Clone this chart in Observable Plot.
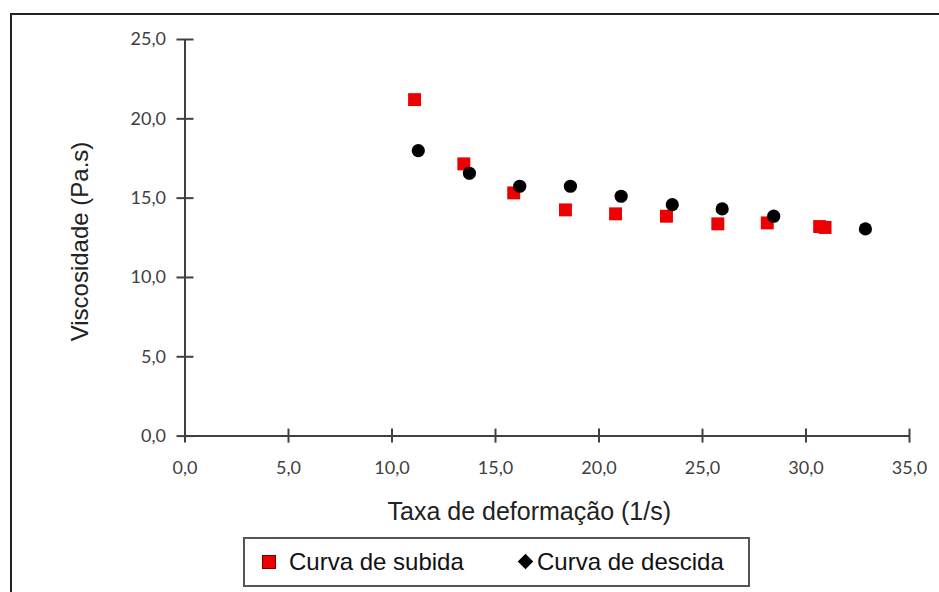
<!DOCTYPE html>
<html>
<head>
<meta charset="utf-8">
<script src="https://cdn.jsdelivr.net/npm/d3@7"></script>
<script src="https://cdn.jsdelivr.net/npm/@observablehq/plot@0.6"></script>
<style>
  html, body { margin: 0; padding: 0; background: #fff; }
  #wrap { position: relative; width: 939px; height: 592px; overflow: hidden; background: #fff; }
  #frame { position: absolute; left: 10px; top: 13px; width: 960px; height: 620px; border: 2px solid #222; box-sizing: border-box; }
  #chart { position: absolute; left: 0; top: 0; }
  #legend { position: absolute; left: 243px; top: 537px; width: 507px; height: 50px; border: 2px solid #555; box-sizing: border-box; background: #fff;
            font-family: "Liberation Sans", Arial, sans-serif; font-size: 24px; color: #111; }
  .item { position: absolute; top: 0; height: 46px; line-height: 46px; white-space: nowrap; }
  .sq { position: absolute; width: 12px; height: 12px; background: #ee0000; border: 1px solid #7a0000; }
  .dm { position: absolute; width: 11px; height: 11px; background: #000; transform: rotate(45deg); }
</style>
</head>
<body>
<div id="wrap">
  <div id="frame"></div>
  <div id="chart"></div>
  <div id="legend"></div>
</div>
<script>
// ---- data ----
const xTicks = [0, 5, 10, 15, 20, 25, 30, 35];
const yTicks = [0, 5, 10, 15, 20, 25];
const seriesNames = ["Curva de subida", "Curva de descida"];
const subidaX = [11.09, 13.47, 15.88, 18.38, 20.80, 23.26, 25.74, 28.13, 30.66, 30.92];
const subidaY = [21.21, 17.16, 15.33, 14.26, 14.01, 13.86, 13.38, 13.44, 13.21, 13.15];
const descidaX = [11.27, 13.74, 16.17, 18.62, 21.07, 23.54, 25.95, 28.44, 32.87];
const descidaY = [18.00, 16.57, 15.75, 15.75, 15.12, 14.59, 14.32, 13.86, 13.06];
const xTitle = "Taxa de deformação (1/s)";
const yTitle = "Viscosidade (Pa.s)";

const subida = subidaX.map((x, i) => ({x, y: subidaY[i]}));
const descida = descidaX.map((x, i) => ({x, y: descidaY[i]}));
const fmt = d => d.toFixed(1).replace(".", ",");
const axisColor = "#404040";
const tickFont = "Lato, 'Open Sans', sans-serif";
const titleFont = "'Liberation Sans', Arial, sans-serif";

const chart = Plot.plot({
  width: 939,
  height: 592,
  marginLeft: 184.5,
  marginRight: 30,
  marginTop: 39,
  marginBottom: 156.4,
  style: {background: "transparent", overflow: "visible"},
  x: {domain: [0, 35]},
  y: {domain: [0, 25]},
  marks: [
    // tick marks crossing the axes
    Plot.axisX(xTicks, {tickSize: 14, dy: -7, tickFormat: () => "", stroke: axisColor, strokeWidth: 2, label: null}),
    Plot.axisY(yTicks, {tickSize: 17, dx: 9, tickFormat: () => "", stroke: axisColor, strokeWidth: 2, label: null}),
    // tick labels
    Plot.axisX(xTicks, {tickSize: 0, tickPadding: 25, tickFormat: fmt, fontSize: 18, fontFamily: tickFont, fill: axisColor, label: null}),
    Plot.axisY(yTicks, {tickSize: 0, tickPadding: 19, tickFormat: fmt, fontSize: 18, fontFamily: tickFont, fill: axisColor, label: null}),
    // axis lines
    Plot.ruleY([0], {stroke: axisColor, strokeWidth: 2}),
    Plot.ruleX([0], {stroke: axisColor, strokeWidth: 2}),
    // axis titles
    Plot.text([xTitle], {frameAnchor: "bottom", lineAnchor: "middle", textAnchor: "middle", dx: -18, dy: 76,
      fontSize: 25, fontFamily: titleFont, fill: "#222"}),
    Plot.text([yTitle], {frameAnchor: "left", lineAnchor: "middle", textAnchor: "middle", rotate: -90, dx: -104.5, dy: 3.7,
      fontSize: 24, fontFamily: titleFont, fill: "#222"}),
    // data
    Plot.dot(subida, {x: "x", y: "y", symbol: "square", r: 7.3, fill: "#ee0000", stroke: "none"}),
    Plot.dot(descida, {x: "x", y: "y", symbol: "circle", r: 6.6, fill: "#000", stroke: "none"})
  ]
});
document.getElementById("chart").appendChild(chart);

// legend
const lg = document.getElementById("legend");
lg.innerHTML = `
  <div class="sq" style="left:17px; top:16px;"></div>
  <div class="item" style="left:44px;">${seriesNames[0]}</div>
  <div class="dm" style="left:275px; top:17px;"></div>
  <div class="item" style="left:292px;">${seriesNames[1]}</div>`;
</script>
</body>
</html>
